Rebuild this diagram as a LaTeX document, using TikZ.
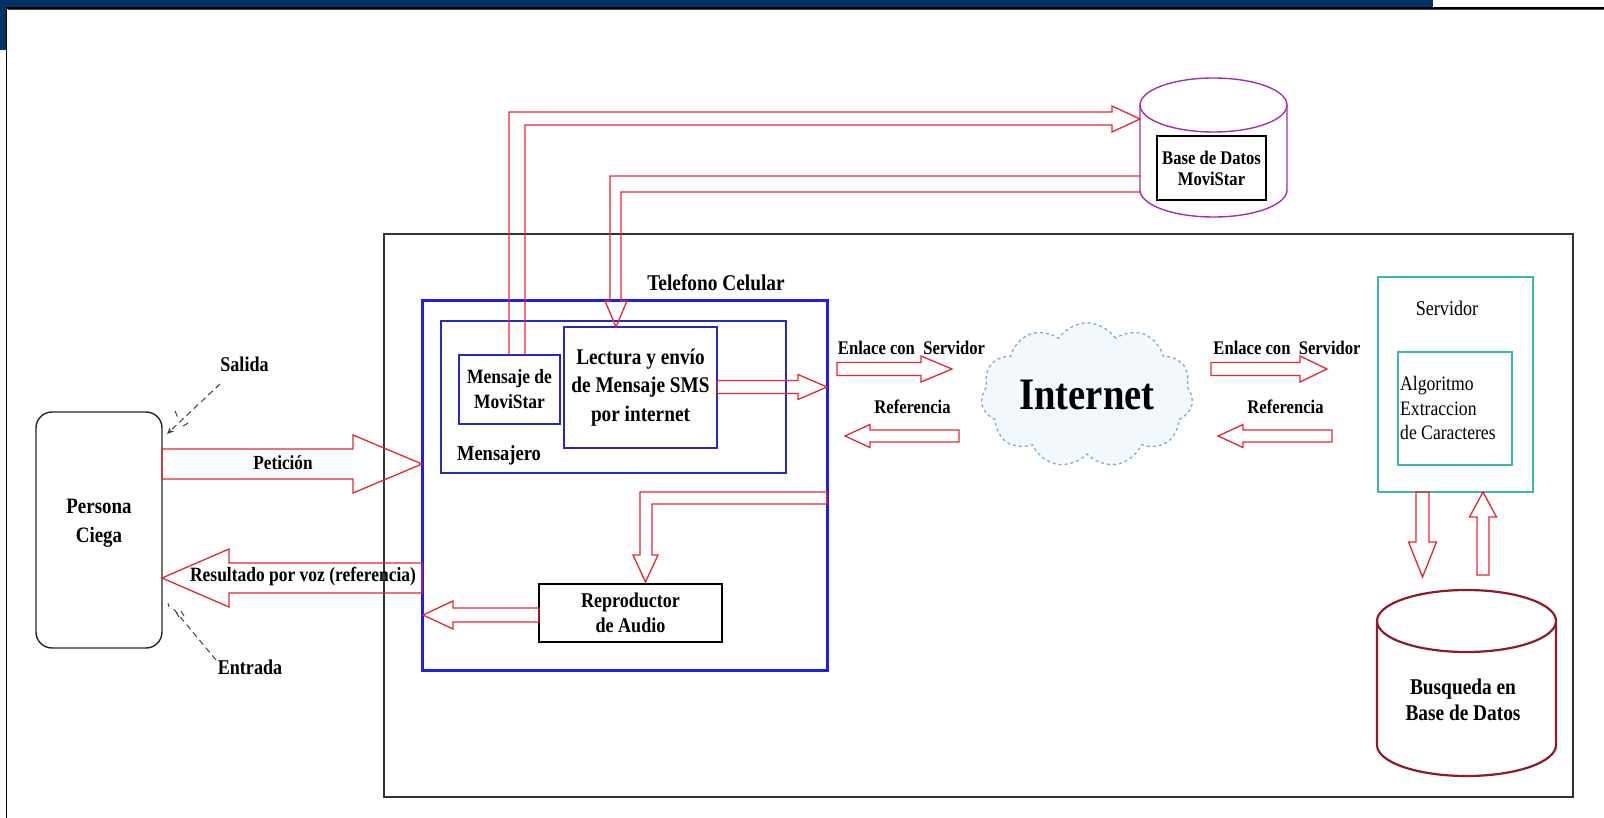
\documentclass[tikz,border=0pt]{standalone}
\usepackage{fontspec}
\setmainfont{Liberation Serif}
\newfontfamily\tnr[FakeStretch=0.86]{Liberation Serif}
\usetikzlibrary{shapes.symbols,shapes.geometric,arrows.meta}
\definecolor{frameblue}{RGB}{0,51,102}
\definecolor{arrred}{RGB}{228,40,50}
\definecolor{dbred}{RGB}{140,28,44}
\definecolor{telblue}{RGB}{30,30,230}
\definecolor{navy}{RGB}{40,40,185}
\definecolor{teal}{RGB}{60,185,170}
\definecolor{dbpurple}{RGB}{165,45,175}
\definecolor{cloudline}{RGB}{120,175,215}
\definecolor{cloudfill}{RGB}{242,248,252}
\newcommand\fsz[2]{\fontsize{#1}{#2}\selectfont}
% horizontal block arrow: tail x, head-base x, tip x, y, shaft half, head half
\newcommand\harr[6]{\draw[barrow] (#1,#4-#5) -- (#2,#4-#5) -- (#2,#4-#6) -- (#3,#4) -- (#2,#4+#6) -- (#2,#4+#5) -- (#1,#4+#5) -- cycle;}
% vertical block arrow: x, tail y, head-base y, tip y, shaft half, head half
\newcommand\varr[6]{\draw[barrow] (#1-#5,#2) -- (#1-#5,#3) -- (#1-#6,#3) -- (#1,#4) -- (#1+#6,#3) -- (#1+#5,#3) -- (#1+#5,#2) -- cycle;}
\begin{document}
\begin{tikzpicture}[x=1pt,y=-1pt,
  barrow/.style={draw=arrred, line width=1.3pt, line join=miter},
  lbl/.style={font=\tnr\bfseries\fsz{20}{23}, inner sep=0pt, align=center},
  box/.style={draw, inner sep=0pt},
  dashline/.style={draw=black!75, line width=1pt, dash pattern=on 6pt off 4pt}]
\useasboundingbox (0,0) rectangle (1604,818);
% frame
\fill[frameblue] (0,0) rectangle (1433,7.5);
\fill[frameblue] (0,0) rectangle (6,50);
\draw[black!70, line width=1pt] (8,10) -- (1604,10);
\draw[black, line width=1.5pt] (6.5,818) -- (6.5,8) -- (1604,8);

% outer box
\node[box, draw=black!80, line width=1.3pt, minimum width=1189pt, minimum height=563pt] (outer) at (978.5,515.5) {};

% person
\node[box, draw=black!85, line width=1.4pt, rounded corners=16pt, minimum width=126pt, minimum height=236pt] (persona) at (99,530) {};
\node[lbl, font=\tnr\bfseries\fsz{22}{29}] (personaT) at (99,523) {Persona\\Ciega};

% phone
\node[box, draw=telblue, line width=3pt, minimum width=405pt, minimum height=369pt] (tel) at (624.5,485.5) {};
\node[lbl, font=\tnr\bfseries\fsz{22.5}{24}] (telT) at (716,283) {Telefono Celular};
\node[box, draw=navy, line width=1.4pt, minimum width=345pt, minimum height=152pt] (mens) at (613.5,397) {};
\node[lbl, font=\tnr\bfseries\fsz{21.5}{24}] (mensT) at (499,455) {Mensajero};
\node[box, draw=navy, line width=1.4pt, minimum width=101pt, minimum height=69pt, font=\tnr\bfseries\fsz{20.3}{25}, align=center] (movi) at (509.5,389.5) {Mensaje de\\MoviStar};
\node[box, draw=navy, line width=1.4pt, minimum width=153pt, minimum height=121pt, font=\tnr\bfseries\fsz{22.4}{28.5}, align=center] (lect) at (640.5,387.5) {Lectura y envío\\de Mensaje SMS\\por internet};
\node[box, draw=black, line width=1.4pt, minimum width=183pt, minimum height=58pt, font=\tnr\bfseries\fsz{21}{25}, align=center] (repro) at (630.5,613) {Reproductor\\de Audio};

% MoviStar database
\node[inner sep=0pt, minimum width=147pt, minimum height=138pt] (db1) at (1213.5,148) {};
\draw[dbpurple, line width=1.4pt] (1140,105) -- (1140,190) arc[start angle=180, end angle=360, x radius=73.5pt, y radius=27pt] -- (1287,105);
\draw[dbpurple, line width=1.4pt] (1213.5,105) ellipse [x radius=73.5pt, y radius=27pt];
\node[box, draw=black, line width=1.3pt, minimum width=109pt, minimum height=64pt, font=\tnr\bfseries\fsz{19.3}{21}, align=center] (db1T) at (1211.5,168) {Base de Datos\\MoviStar};

% cloud
\node[cloud, cloud puffs=11, cloud puff arc=115, aspect=1.6, draw=cloudline, dashed, line width=1.3pt, fill=cloudfill, minimum width=212pt, minimum height=136pt, inner sep=0pt, font=\tnr\bfseries\fsz{45}{47}] (net) at (1087,395) {Internet};

% server
\node[box, draw=teal, line width=1.4pt, minimum width=155pt, minimum height=215pt] (serv) at (1455.5,384.5) {};
\node[inner sep=0pt, font=\tnr\fsz{21}{24}] (servT) at (1447,308) {Servidor};
\node[box, draw=teal, line width=1.4pt, minimum width=114pt, minimum height=113pt] (algo) at (1455,408.5) {};
\node[inner sep=0pt, anchor=west, align=left, font=\tnr\fsz{20.5}{24.5}] (algoT) at (1400,408) {Algoritmo\\Extraccion\\de Caracteres};

% search database
\node[inner sep=0pt, minimum width=179pt, minimum height=186pt] (db2) at (1466.5,683) {};
\draw[dbred, line width=2.2pt] (1377,621) -- (1377,745) arc[start angle=180, end angle=360, x radius=89.5pt, y radius=31pt] -- (1556,621);
\draw[dbred, line width=2.2pt] (1466.5,621) ellipse [x radius=89.5pt, y radius=31pt];
\node[lbl, font=\tnr\bfseries\fsz{22.5}{26}] (db2T) at (1463,700) {Busqueda en\\Base de Datos};

% block arrows
\harr{162}{353}{422}{464}{15}{29}
\node[lbl] (petT) at (283,463) {Petición};
\harr{422}{229}{162}{578}{15}{29}
\node[lbl, font=\tnr\bfseries\fsz{20.3}{22}] (resT) at (303,577) {Resultado por voz (referencia)};
\harr{539}{453}{423}{615}{7}{14}
\harr{717}{798}{827}{387}{6.5}{12.5}
\harr{837}{921}{952}{369}{6.5}{13}
\harr{959}{870}{845}{436}{6}{11.5}
\harr{1211}{1300}{1327}{369}{6.5}{13}
\harr{1332}{1243}{1218}{436}{6}{11.5}
\varr{1422.5}{492}{542}{577}{6.5}{14}
\varr{1483}{575}{517}{492}{6}{13.5}
\node[lbl, font=\tnr\bfseries\fsz{19.3}{22}] (enl1) at (911.5,348) {Enlace con\ \ Servidor};
\node[lbl, font=\tnr\bfseries\fsz{19.3}{22}] (ref1) at (912.5,407) {Referencia};
\node[lbl, font=\tnr\bfseries\fsz{19.3}{22}] (enl2) at (1287,348) {Enlace con\ \ Servidor};
\node[lbl, font=\tnr\bfseries\fsz{19.3}{22}] (ref2) at (1285.5,407) {Referencia};

% L-shaped arrows
\draw[barrow] (509,355) -- (509,112) -- (1112,112) -- (1112,106) -- (1140,119) -- (1112,132) -- (1112,125) -- (525,125) -- (525,355);
\draw[barrow] (1140,176) -- (610,176) -- (610,301) -- (605,301) -- (616,327) -- (627,301) -- (621,301) -- (621,192) -- (1140,192);
\draw[barrow] (827,492) -- (640,492) -- (640,555) -- (633,555) -- (645.5,582) -- (658,555) -- (652,555) -- (652,504) -- (827,504) -- cycle;

% Salida / Entrada
\node[lbl, font=\tnr\bfseries\fsz{21}{22}] (salT) at (244.5,364) {Salida};
\node[lbl, font=\tnr\bfseries\fsz{21}{22}] (entT) at (250,667) {Entrada};
\coordinate (salA) at (220,384);
\coordinate (salB) at (167,434);
\draw[dashline, -{Stealth[length=7pt,width=6pt]}] (salA) -- (salB);
\draw[dashline] (175,411) -- (178,418);
\draw[dashline] (183,426) -- (190,422);
\coordinate (entA) at (216,660);
\coordinate (entB) at (172,607);
\draw[dashline] (entA) -- (entB);
\draw[black!75, line width=0.9pt] (168,603) -- (169,607);
\draw[black!75, line width=0.9pt] (176,612) -- (179,617);
\draw[black!75, line width=0.9pt] (181,611) -- (184,616);
\end{tikzpicture}
\end{document}
